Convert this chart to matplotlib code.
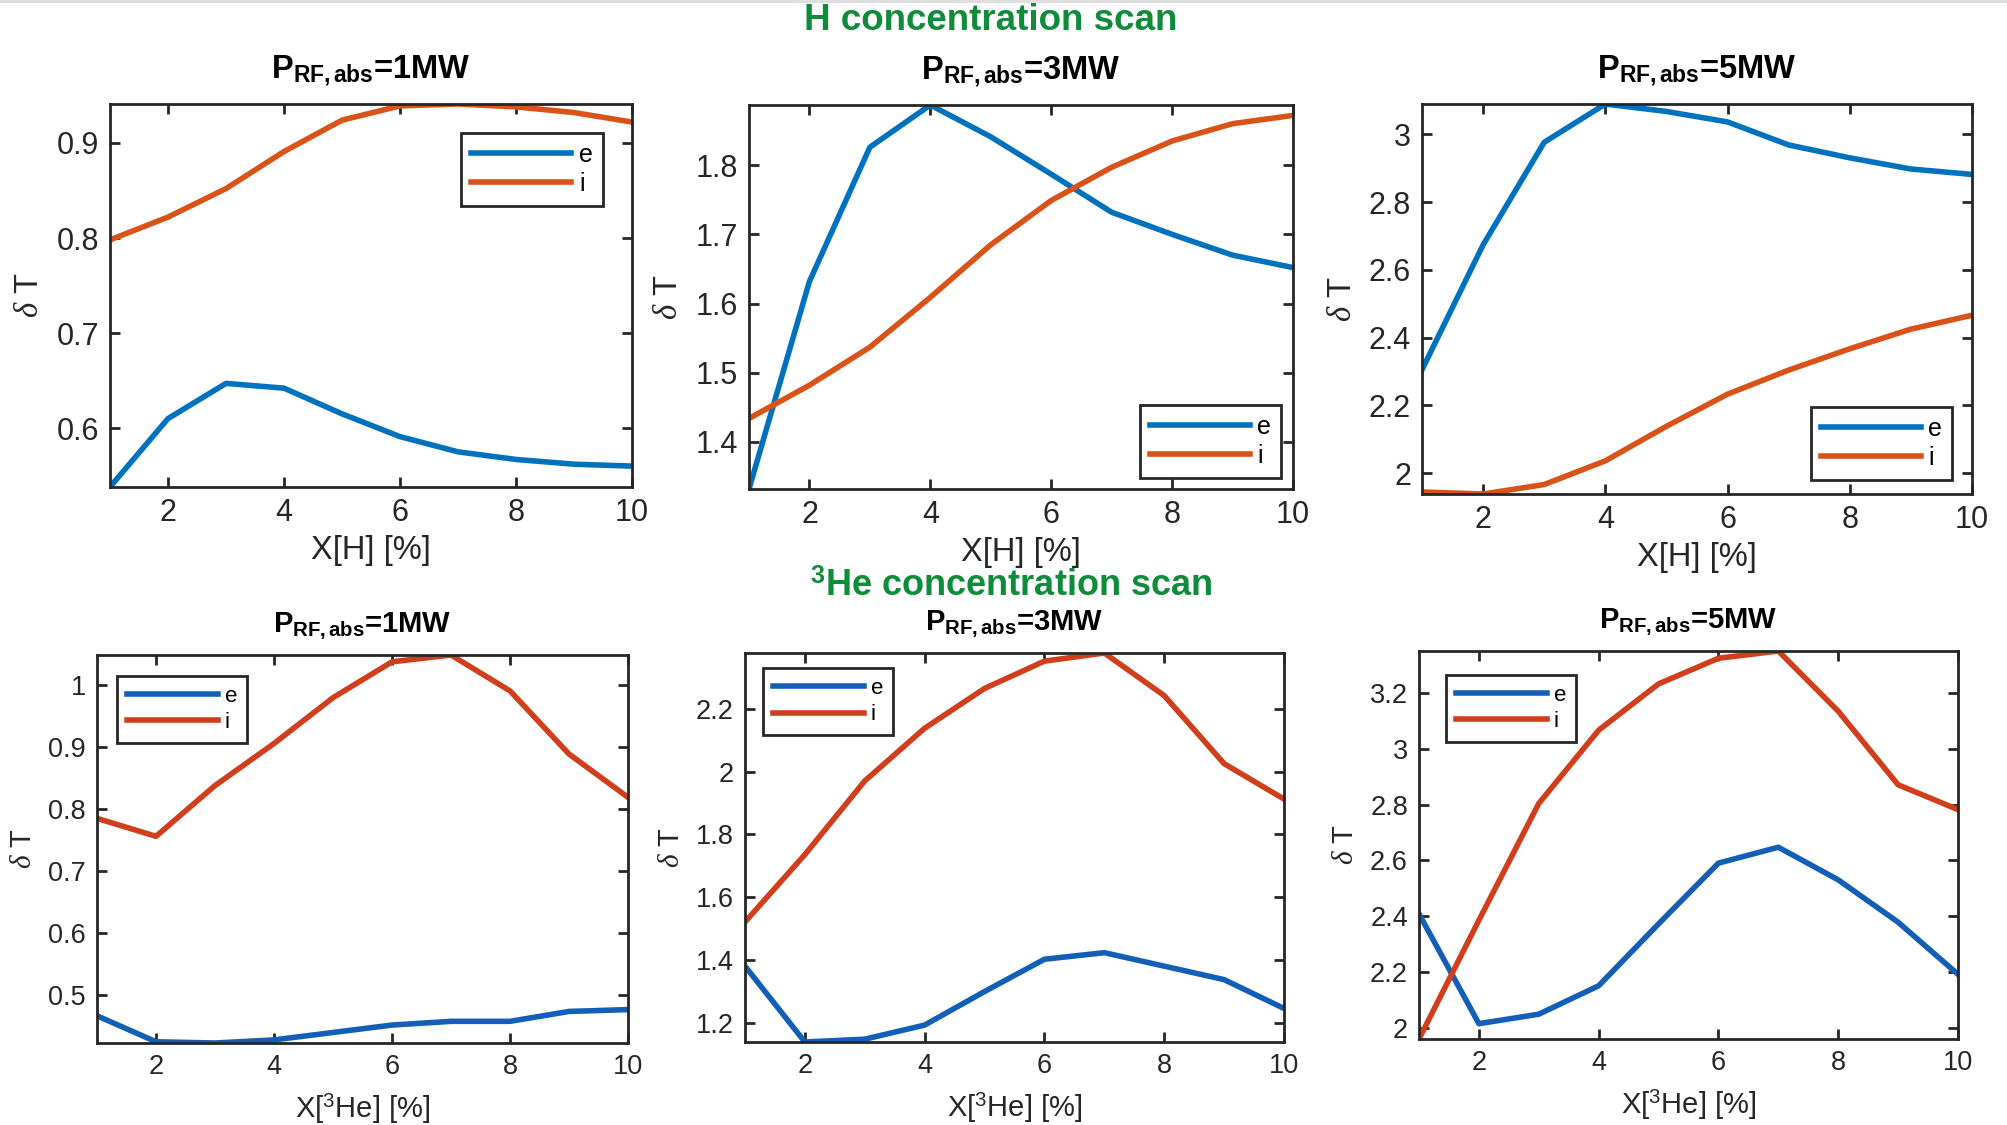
import matplotlib
matplotlib.use("Agg")
import matplotlib.pyplot as plt
from matplotlib.lines import Line2D

plt.rcParams['font.family'] = ['Liberation Sans', 'DejaVu Sans']
plt.rcParams['mathtext.fontset'] = 'custom'
plt.rcParams['mathtext.rm'] = 'Liberation Sans'
plt.rcParams['mathtext.bf'] = 'Liberation Sans:bold'
plt.rcParams['mathtext.it'] = 'Liberation Serif:italic'

# ---- data ----
x_pct = [1, 2, 3, 4, 5, 6, 7, 8, 9, 10]

# H concentration scan
h_1mw_e = [0.538, 0.610, 0.647, 0.642, 0.615, 0.591, 0.575, 0.567, 0.562, 0.560]
h_1mw_i = [0.798, 0.822, 0.852, 0.891, 0.924, 0.939, 0.941, 0.938, 0.932, 0.922]
h_3mw_e = [1.332, 1.632, 1.826, 1.887, 1.841, 1.787, 1.732, 1.700, 1.670, 1.652]
h_3mw_i = [1.434, 1.482, 1.537, 1.609, 1.685, 1.749, 1.797, 1.835, 1.860, 1.872]
h_5mw_e = [2.305, 2.674, 2.977, 3.090, 3.068, 3.037, 2.969, 2.931, 2.898, 2.882]
h_5mw_i = [1.944, 1.938, 1.966, 2.036, 2.138, 2.233, 2.304, 2.367, 2.425, 2.466]

# 3He concentration scan
he_1mw_e = [0.466, 0.424, 0.422, 0.427, 0.439, 0.451, 0.457, 0.457, 0.473, 0.476]
he_1mw_i = [0.785, 0.756, 0.838, 0.906, 0.980, 1.038, 1.049, 0.991, 0.889, 0.819]
he_3mw_e = [1.380, 1.138, 1.147, 1.192, 1.299, 1.402, 1.423, 1.380, 1.337, 1.245]
he_3mw_i = [1.521, 1.736, 1.971, 2.139, 2.266, 2.353, 2.379, 2.243, 2.026, 1.913]
he_5mw_e = [2.408, 2.014, 2.048, 2.150, 2.372, 2.590, 2.647, 2.530, 2.378, 2.191]
he_5mw_i = [1.959, 2.385, 2.804, 3.067, 3.233, 3.325, 3.351, 3.135, 2.871, 2.782]

powers = ['1MW', '3MW', '5MW']
row_titles = ['H concentration scan', r'$^{\mathbf{3}}$He concentration scan']
x_labels = ['X[H] [%]', r'X[$^{3}$He] [%]']
y_ticks = [
    [0.6, 0.7, 0.8, 0.9],
    [1.4, 1.5, 1.6, 1.7, 1.8],
    [2.0, 2.2, 2.4, 2.6, 2.8, 3.0],
    [0.5, 0.6, 0.7, 0.8, 0.9, 1.0],
    [1.2, 1.4, 1.6, 1.8, 2.0, 2.2],
    [2.0, 2.2, 2.4, 2.6, 2.8, 3.0, 3.2],
]
series = [
    (h_1mw_e, h_1mw_i), (h_3mw_e, h_3mw_i), (h_5mw_e, h_5mw_i),
    (he_1mw_e, he_1mw_i), (he_3mw_e, he_3mw_i), (he_5mw_e, he_5mw_i),
]

W, H = 2007, 1125
# axes boxes in pixels: left, top, right, bottom
boxes = [
    (110, 104, 632, 487), (749, 105, 1293, 489), (1422, 104, 1972, 494),
    (97, 655, 628, 1043), (745, 653, 1284, 1042), (1419, 651, 1958, 1039),
]
legend_pos = [
    ('upper right', (0.944, 0.924)), ('lower right', (0.978, 0.029)),
    ('lower right', (0.964, 0.036)), ('upper left', (0.038, 0.946)),
    ('upper left', (0.033, 0.961)), ('upper left', (0.050, 0.938)),
]
colors_top = ('#0072BD', '#D95319')
colors_bot = ('#135FB8', '#D03E1C')
dark = '#262626'
green = '#0E8C3A'

# per-row text styling: top row, bottom row
tick_fs = (22, 19.5)
lab_fs = (23.5, 21)
title_fs = (23.5, 21)
title_pad = (18, 17)
xlab_pad = (5, 9)
leg_fs = (18, 16)

fig = plt.figure(figsize=(W / 100, H / 100), dpi=100)
fig.add_artist(Line2D([0, 1], [0.999, 0.999], color='#dddddd', lw=2))

for k, (e_vals, i_vals) in enumerate(series):
    row = k // 3
    l, t, r, b = boxes[k]
    ax = fig.add_axes([l / W, 1 - b / H, (r - l) / W, (b - t) / H])
    cols = colors_top if row == 0 else colors_bot
    ax.plot(x_pct, e_vals, color=cols[0], lw=4, label='e')
    ax.plot(x_pct, i_vals, color=cols[1], lw=4, label='i')
    ax.set_xlim(1, 10)
    lo = min(min(e_vals), min(i_vals))
    hi = max(max(e_vals), max(i_vals))
    ax.set_ylim(lo, hi)
    ax.set_xticks([2, 4, 6, 8, 10])
    ax.set_yticks(y_ticks[k])
    ax.set_yticklabels(['%g' % v for v in y_ticks[k]])
    ax.tick_params(direction='in', length=7, width=2, colors=dark,
                   labelsize=tick_fs[row], top=True, right=True, pad=8)
    for s in ax.spines.values():
        s.set_linewidth(2)
        s.set_color(dark)
    ax.set_xlabel(x_labels[row], fontsize=lab_fs[row], color=dark, labelpad=xlab_pad[row])
    ax.set_ylabel(r'$\delta$ T', fontsize=lab_fs[row], color=dark, labelpad=8)
    ax.set_title(r'$\mathbf{P}_{\mathbf{RF,abs}}$=' + powers[k % 3],
                 fontsize=title_fs[row], fontweight='bold', pad=title_pad[row])
    loc, anchor = legend_pos[k]
    if row == 0:
        leg = ax.legend(loc=loc, bbox_to_anchor=anchor, borderaxespad=0,
                        fontsize=leg_fs[row], handlelength=4.0,
                        handletextpad=0.3, labelspacing=0.2, borderpad=0.4,
                        fancybox=False, framealpha=1)
    else:
        leg = ax.legend(loc=loc, bbox_to_anchor=anchor, borderaxespad=0,
                        fontsize=leg_fs[row], handlelength=4.1,
                        handletextpad=0.3, labelspacing=0.23, borderpad=0.45,
                        fancybox=False, framealpha=1)
    leg.get_frame().set_edgecolor(dark)
    leg.get_frame().set_linewidth(2)

fig.text(991 / W, 1 - 21 / H, row_titles[0], color=green, fontsize=26.5,
         fontweight='bold', ha='center', va='center')
fig.text(1011 / W, 1 - 587 / H, row_titles[1], color=green, fontsize=26,
         fontweight='bold', ha='center', va='center')

fig.savefig('out.png', dpi=100, facecolor='white')
